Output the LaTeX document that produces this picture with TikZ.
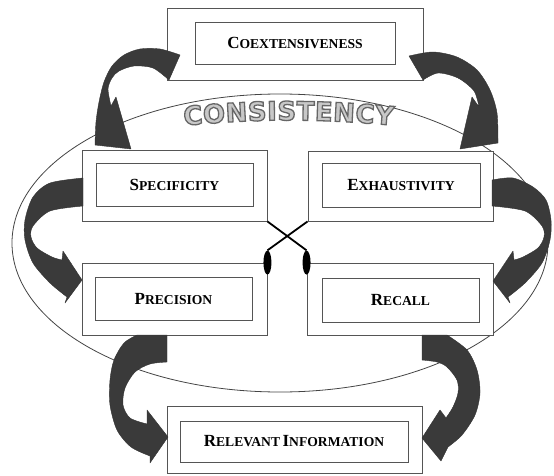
\documentclass[tikz,border=0pt]{standalone}
\usepackage{fontspec}
\setmainfont{Liberation Serif}
\newfontfamily\consfont{DejaVu Sans}
\usetikzlibrary{shapes.geometric}
\definecolor{boxline}{HTML}{555555}
\definecolor{ribbonc}{HTML}{3A3A3A}
\definecolor{consfill}{HTML}{C8C8C8}
\definecolor{ellc}{HTML}{444444}
\newcommand{\bsc}[2]{{\fontsize{17}{17}\selectfont #1}{\fontsize{13.6}{13.6}\selectfont #2}}
\newcommand{\cl}[1]{\textcolor{consfill}{\special{pdf:literal direct 0.4 G 1.3 w 2 Tr}#1\special{pdf:literal direct 0 Tr}}}
\begin{document}
\begin{tikzpicture}[x=1pt,y=-1pt,
  outerbox/.style={draw=boxline, line width=0.9pt, fill=white, inner sep=0pt},
  innerbox/.style={draw=boxline, line width=0.9pt, inner sep=0pt, font=\bfseries},
  ribbon/.style={fill=ribbonc, draw=black!80, line width=0.4pt, line join=round},
  blob/.style={ellipse, fill=black, inner sep=0pt, minimum width=8pt, minimum height=24pt},
  xline/.style={draw=black, line width=1.8pt},
  conslet/.style={inner sep=0pt, anchor=base west, font=\consfont\bfseries\fontsize{26}{26}\selectfont}]
\useasboundingbox (0,0) rectangle (554,476);
% ellipse
\node[draw=ellc, line width=0.8pt, ellipse, inner sep=0pt, minimum width=536pt, minimum height=298pt] (cons) at (280,243) {};
% boxes
\node[outerbox, minimum width=256pt, minimum height=72pt] (coext) at (295,44) {};
\node[innerbox, minimum width=200pt, minimum height=42pt] (coext-in) at (295,43) {\bsc{C}{OEXTENSIVENESS}};
\node[outerbox, minimum width=185pt, minimum height=71pt] (spec) at (174.5,185.5) {};
\node[innerbox, minimum width=157pt, minimum height=43pt] (spec-in) at (174.5,184.5) {\bsc{S}{PECIFICITY}};
\node[outerbox, minimum width=185pt, minimum height=70pt] (exh) at (400.5,186) {};
\node[innerbox, minimum width=158pt, minimum height=44pt] (exh-in) at (401,185) {\bsc{E}{XHAUSTIVITY}};
\node[outerbox, minimum width=185pt, minimum height=72pt] (prec) at (174.5,299) {};
\node[innerbox, minimum width=157pt, minimum height=43pt] (prec-in) at (173.5,298.5) {\bsc{P}{RECISION}};
\node[outerbox, minimum width=186pt, minimum height=72pt] (rec) at (400,299) {};
\node[innerbox, minimum width=157pt, minimum height=44pt] (rec-in) at (400.5,300) {\bsc{R}{ECALL}};
\node[outerbox, minimum width=255pt, minimum height=67pt] (rel) at (294.5,439.5) {};
\node[innerbox, minimum width=228pt, minimum height=41pt] (rel-in) at (294,441.5) {\bsc{R}{ELEVANT} \bsc{I}{NFORMATION}};
% crossing connectors
\node[blob] (lblob) at (prec.north east) {};
\node[blob] (rblob) at (rec.north west) {};
\draw[xline] (spec.south east) -- (rblob.north);
\draw[xline] (exh.south west) -- (lblob.north);
% ribbon arrows
\fill[ribbon] (180,55) -- plot[smooth] coordinates {(180,55) (160,49) (140,49) (124,55) (112,66) (104,82) (99,102) (96,122) (95,145)} -- (131,149) -- (116,97) -- (111,106) -- plot[smooth] coordinates {(111,106) (108,89) (112,78) (119,71) (134,66) (153,68) (169,80)} -- cycle;
\fill[ribbon] (409,56) -- plot[smooth] coordinates {(409,56) (433,52) (457,57) (477,70) (490,90) (497,113) (498,143)} -- (460,149) -- (472,97) -- (479,107) -- plot[smooth] coordinates {(479,107) (474,91) (458,78) (438,73) (423,80)} -- cycle;
\fill[ribbon] (83,178) -- plot[smooth] coordinates {(83,178) (50,183) (33,197) (25,220) (25,240) (33,263) (50,283) (67,297)} -- (65,303) -- (82,280) -- (63,251) -- (62,260) -- plot[smooth] coordinates {(62,260) (52,257) (37,248) (31,237) (33,226) (50,211) (83,206)} -- cycle;
\fill[ribbon] (492,180) -- plot[smooth] coordinates {(492,180) (513,178) (533,187) (546,200) (551,220) (550,240) (542,263) (525,283) (508,297)} -- (510,303) -- (493,281) -- (513,251) -- (514,260) -- plot[smooth] coordinates {(514,260) (523,257) (538,248) (544,237) (542,226) (525,211) (492,206)} -- cycle;
\fill[ribbon] (137,335) -- (167,335) -- (167,362) -- plot[smooth] coordinates {(167,362) (150,364) (135,372) (125,388) (123,405) (130,418) (147,424)} -- (147,410) -- (168,437) -- (150,463) -- (150,456) -- plot[smooth] coordinates {(150,456) (131,447) (117,430) (110,405) (110,380) (114,360) (124,343) (137,335)} -- cycle;
\fill[ribbon] (422,335) -- (447,335) -- plot[smooth] coordinates {(447,335) (467,350) (477,370) (480,393) (475,415) (462,435) (448,447)} -- (441,461) -- (422,438) -- (440,410) -- (446,418) -- plot[smooth] coordinates {(446,418) (453,407) (458,393) (457,380) (447,367) (437,362) (422,360)} -- cycle;
% CONSISTENCY
\node[conslet, rotate=5] (k1) at (184,125.5) {\cl{C}};
\node[conslet, rotate=4] (k2) at (k1.base east) {\cl{O}};
\node[conslet, rotate=3] (k3) at (k2.base east) {\cl{N}};
\node[conslet, rotate=2] (k4) at (k3.base east) {\cl{S}};
\node[conslet, rotate=1] (k5) at (k4.base east) {\cl{I}};
\node[conslet, rotate=0] (k6) at (k5.base east) {\cl{S}};
\node[conslet, rotate=-1] (k7) at (k6.base east) {\cl{T}};
\node[conslet, rotate=-2] (k8) at (k7.base east) {\cl{E}};
\node[conslet, rotate=-3] (k9) at (k8.base east) {\cl{N}};
\node[conslet, rotate=-4] (k10) at (k9.base east) {\cl{C}};
\node[conslet, rotate=-5] (k11) at (k10.base east) {\cl{Y}};
\end{tikzpicture}
\end{document}
